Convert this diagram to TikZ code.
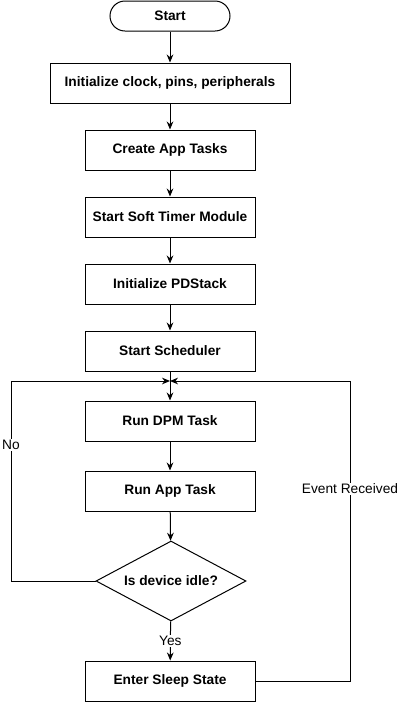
\documentclass[tikz,border=0pt]{standalone}
\usepackage{fontspec}
\setmainfont{Liberation Sans}
\usetikzlibrary{shapes.geometric,arrows.meta}

\begin{document}
\begin{tikzpicture}[x=0.75pt,y=0.75pt,yscale=-1,xscale=1,
  every node/.style={font=\fontsize{10.3}{12}\selectfont},
  process/.style={draw,line width=0.75pt,minimum height=30pt,inner sep=0.75pt,font=\fontsize{10.3}{12}\selectfont\bfseries},
  terminal/.style={process,rounded corners=11.25pt,minimum width=90pt,minimum height=22.5pt},
  decision/.style={process,diamond,aspect=1.875,minimum width=112.5pt,minimum height=60pt,inner sep=0pt},
  flow/.style={line width=0.75pt,-{Stealth[length=6pt,width=5pt]}},
  tag/.style={fill=white,inner sep=0.75pt}]
\useasboundingbox (0,0) rectangle (400,704);

% Shapes
\node [terminal] (start) at (170,16) {Start};
\node [process,minimum width=180pt] (init) at (170,83) {Initialize clock, pins, peripherals};
\node [process,minimum width=127.5pt] (tasks) at (170,150) {Create App Tasks};
\node [process,minimum width=127.5pt] (timer) at (170,217) {Start Soft Timer Module};
\node [process,minimum width=127.5pt] (pdstack) at (170,284) {Initialize PDStack};
\node [process,minimum width=127.5pt] (sched) at (170,351) {Start Scheduler};
\node [process,minimum width=127.5pt] (dpm) at (170,421) {Run DPM Task};
\node [process,minimum width=127.5pt] (app) at (170,491) {Run App Task};
\node [decision] (idle) at (171,581) {Is device idle?};
\node [process,minimum width=127.5pt] (sleep) at (170,681) {Enter Sleep State};

% Loop points
\coordinate (loop) at (170,381);
\coordinate (nocorner) at (11,581);
\coordinate (notop) at (11,381);
\coordinate (evcorner) at (350,681);
\coordinate (evtop) at (350,381);

% Connectors
\draw [flow] (start) -- (init);
\draw [flow] (init) -- (tasks);
\draw [flow] (tasks) -- (timer);
\draw [flow] (timer) -- (pdstack);
\draw [flow] (pdstack) -- (sched);
\draw [flow] (sched) -- (dpm);
\draw [flow] (dpm) -- (app);
\draw [flow] (app) -- (idle);
\draw [flow] (idle) -- node [tag,pos=0.5] (yes) {Yes} (sleep);
\draw [flow] (idle.west) -- (nocorner) -- node [tag,pos=0.68] (no) {No} (notop) -- (loop);
\draw [flow] (sleep.east) -- (evcorner) -- node [tag,pos=0.64] (event) {Event Received} (evtop) -- (loop);

\end{tikzpicture}
\end{document}
